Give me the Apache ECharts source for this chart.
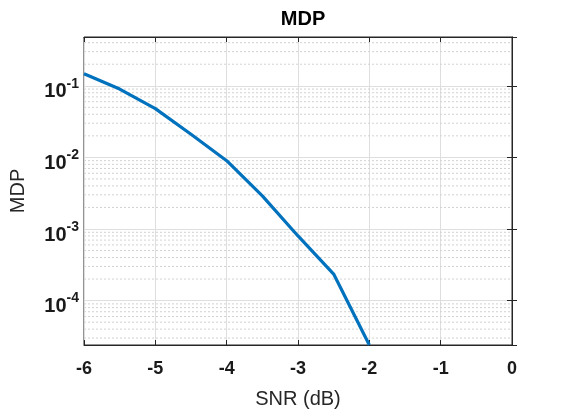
<!DOCTYPE html>
<html>
<head>
<meta charset="utf-8">
<script src="https://cdn.jsdelivr.net/npm/echarts@6/dist/echarts.min.js"></script>
<style>
  html, body { margin: 0; padding: 0; background: #fff; }
</style>
</head>
<body>
<div id="main" style="width: 561px;height:414px;"></div>
<script>
// data
const snr = [-6, -5.5, -5, -4.5, -4, -3.5, -3, -2.5, -2];
const mdp = [0.147, 0.090, 0.048, 0.021, 0.0090, 0.0029, 0.00080, 0.000235, 0.000024];
const xTicks = [-6, -5, -4, -3, -2, -1, 0];

const yMin = 0.000024;
const yMax = 0.48;

// minor log grid values (2..9 x 10^k)
const minorValues = [];
for (let k = -5; k <= -1; k++) {
  for (let m = 2; m <= 9; m++) {
    const v = m * Math.pow(10, k);
    if (v > yMin && v < yMax) minorValues.push(v);
  }
}

const font = 'Liberation Sans, Arial, Helvetica, sans-serif';
const ink = '#262626';

// each minor grid line is a flat dotted series across the x range
const minorSeries = minorValues.map(v => ({
  type: 'line',
  data: [[-6, v], [0, v]],
  symbol: 'none',
  silent: true,
  lineStyle: { color: '#d2d2d2', width: 1, type: [2, 2] },
  z: 1
}));

const option = {
  animation: false,
  title: {
    text: 'MDP',
    left: 298,
    top: 4,
    textAlign: 'center',
    textStyle: { fontFamily: font, fontSize: 20, fontWeight: 'bold', color: '#000' }
  },
  grid: {
    left: 84, right: 49, top: 37, bottom: 67,
    show: true, borderColor: ink, borderWidth: 1
  },
  xAxis: [
    {
      type: 'value', min: -6, max: 0, interval: 1,
      name: 'SNR (dB)', nameLocation: 'middle', nameGap: 44,
      nameTextStyle: { fontFamily: font, fontSize: 20, color: ink },
      axisLine: { show: true, lineStyle: { color: ink } },
      axisTick: { show: true, inside: true, length: 5, lineStyle: { color: ink } },
      axisLabel: {
        fontFamily: font, fontSize: 18, fontWeight: 'bold', color: '#1a1a1a', margin: 15,
        formatter: v => xTicks.includes(v) ? String(v) : ''
      },
      splitLine: { show: true, lineStyle: { color: '#dedede', width: 1 } }
    },
    {
      type: 'value', min: -6, max: 0, interval: 1, position: 'top',
      axisLine: { show: true, lineStyle: { color: ink } },
      axisTick: { show: true, inside: true, length: 5, lineStyle: { color: ink } },
      axisLabel: { show: false },
      splitLine: { show: false }
    }
  ],
  yAxis: [
    {
      type: 'log', logBase: 10, min: yMin, max: yMax,
      name: 'MDP', nameLocation: 'middle', nameGap: 56,
      nameTextStyle: { fontFamily: font, fontSize: 20, color: ink },
      axisLine: { show: true, lineStyle: { color: ink } },
      axisTick: { show: true, inside: true, length: 5, lineStyle: { color: ink } },
      axisLabel: {
        margin: 5,
        formatter: function (v) {
          const lg = Math.log10(v);
          const e = Math.round(lg);
          if (Math.abs(lg - e) > 1e-6) return '';
          return '{b|10}{s|' + e + '}';
        },
        rich: {
          b: { fontFamily: font, fontSize: 20, fontWeight: 'bold', color: '#1a1a1a', padding: [12, 0, 0, 0] },
          s: { fontFamily: font, fontSize: 14, fontWeight: 'bold', color: '#1a1a1a', padding: [0, 0, 4, 0] }
        }
      },
      splitLine: { show: true, lineStyle: { color: '#dedede', width: 1 } }
    },
    {
      type: 'log', logBase: 10, min: yMin, max: yMax, position: 'right',
      axisLine: { show: true, lineStyle: { color: ink } },
      axisTick: { show: true, inside: true, length: 5, lineStyle: { color: ink } },
      axisLabel: { show: false },
      splitLine: { show: false }
    }
  ],
  series: minorSeries.concat([
    {
      type: 'line',
      data: snr.map((x, i) => [x, mdp[i]]),
      showSymbol: false,
      symbol: 'none',
      lineStyle: { color: '#0072BD', width: 3.2 },
      z: 5
    }
  ])
};

const myChart = echarts.init(document.getElementById('main'));
myChart.setOption(option);
</script>
</body>
</html>
